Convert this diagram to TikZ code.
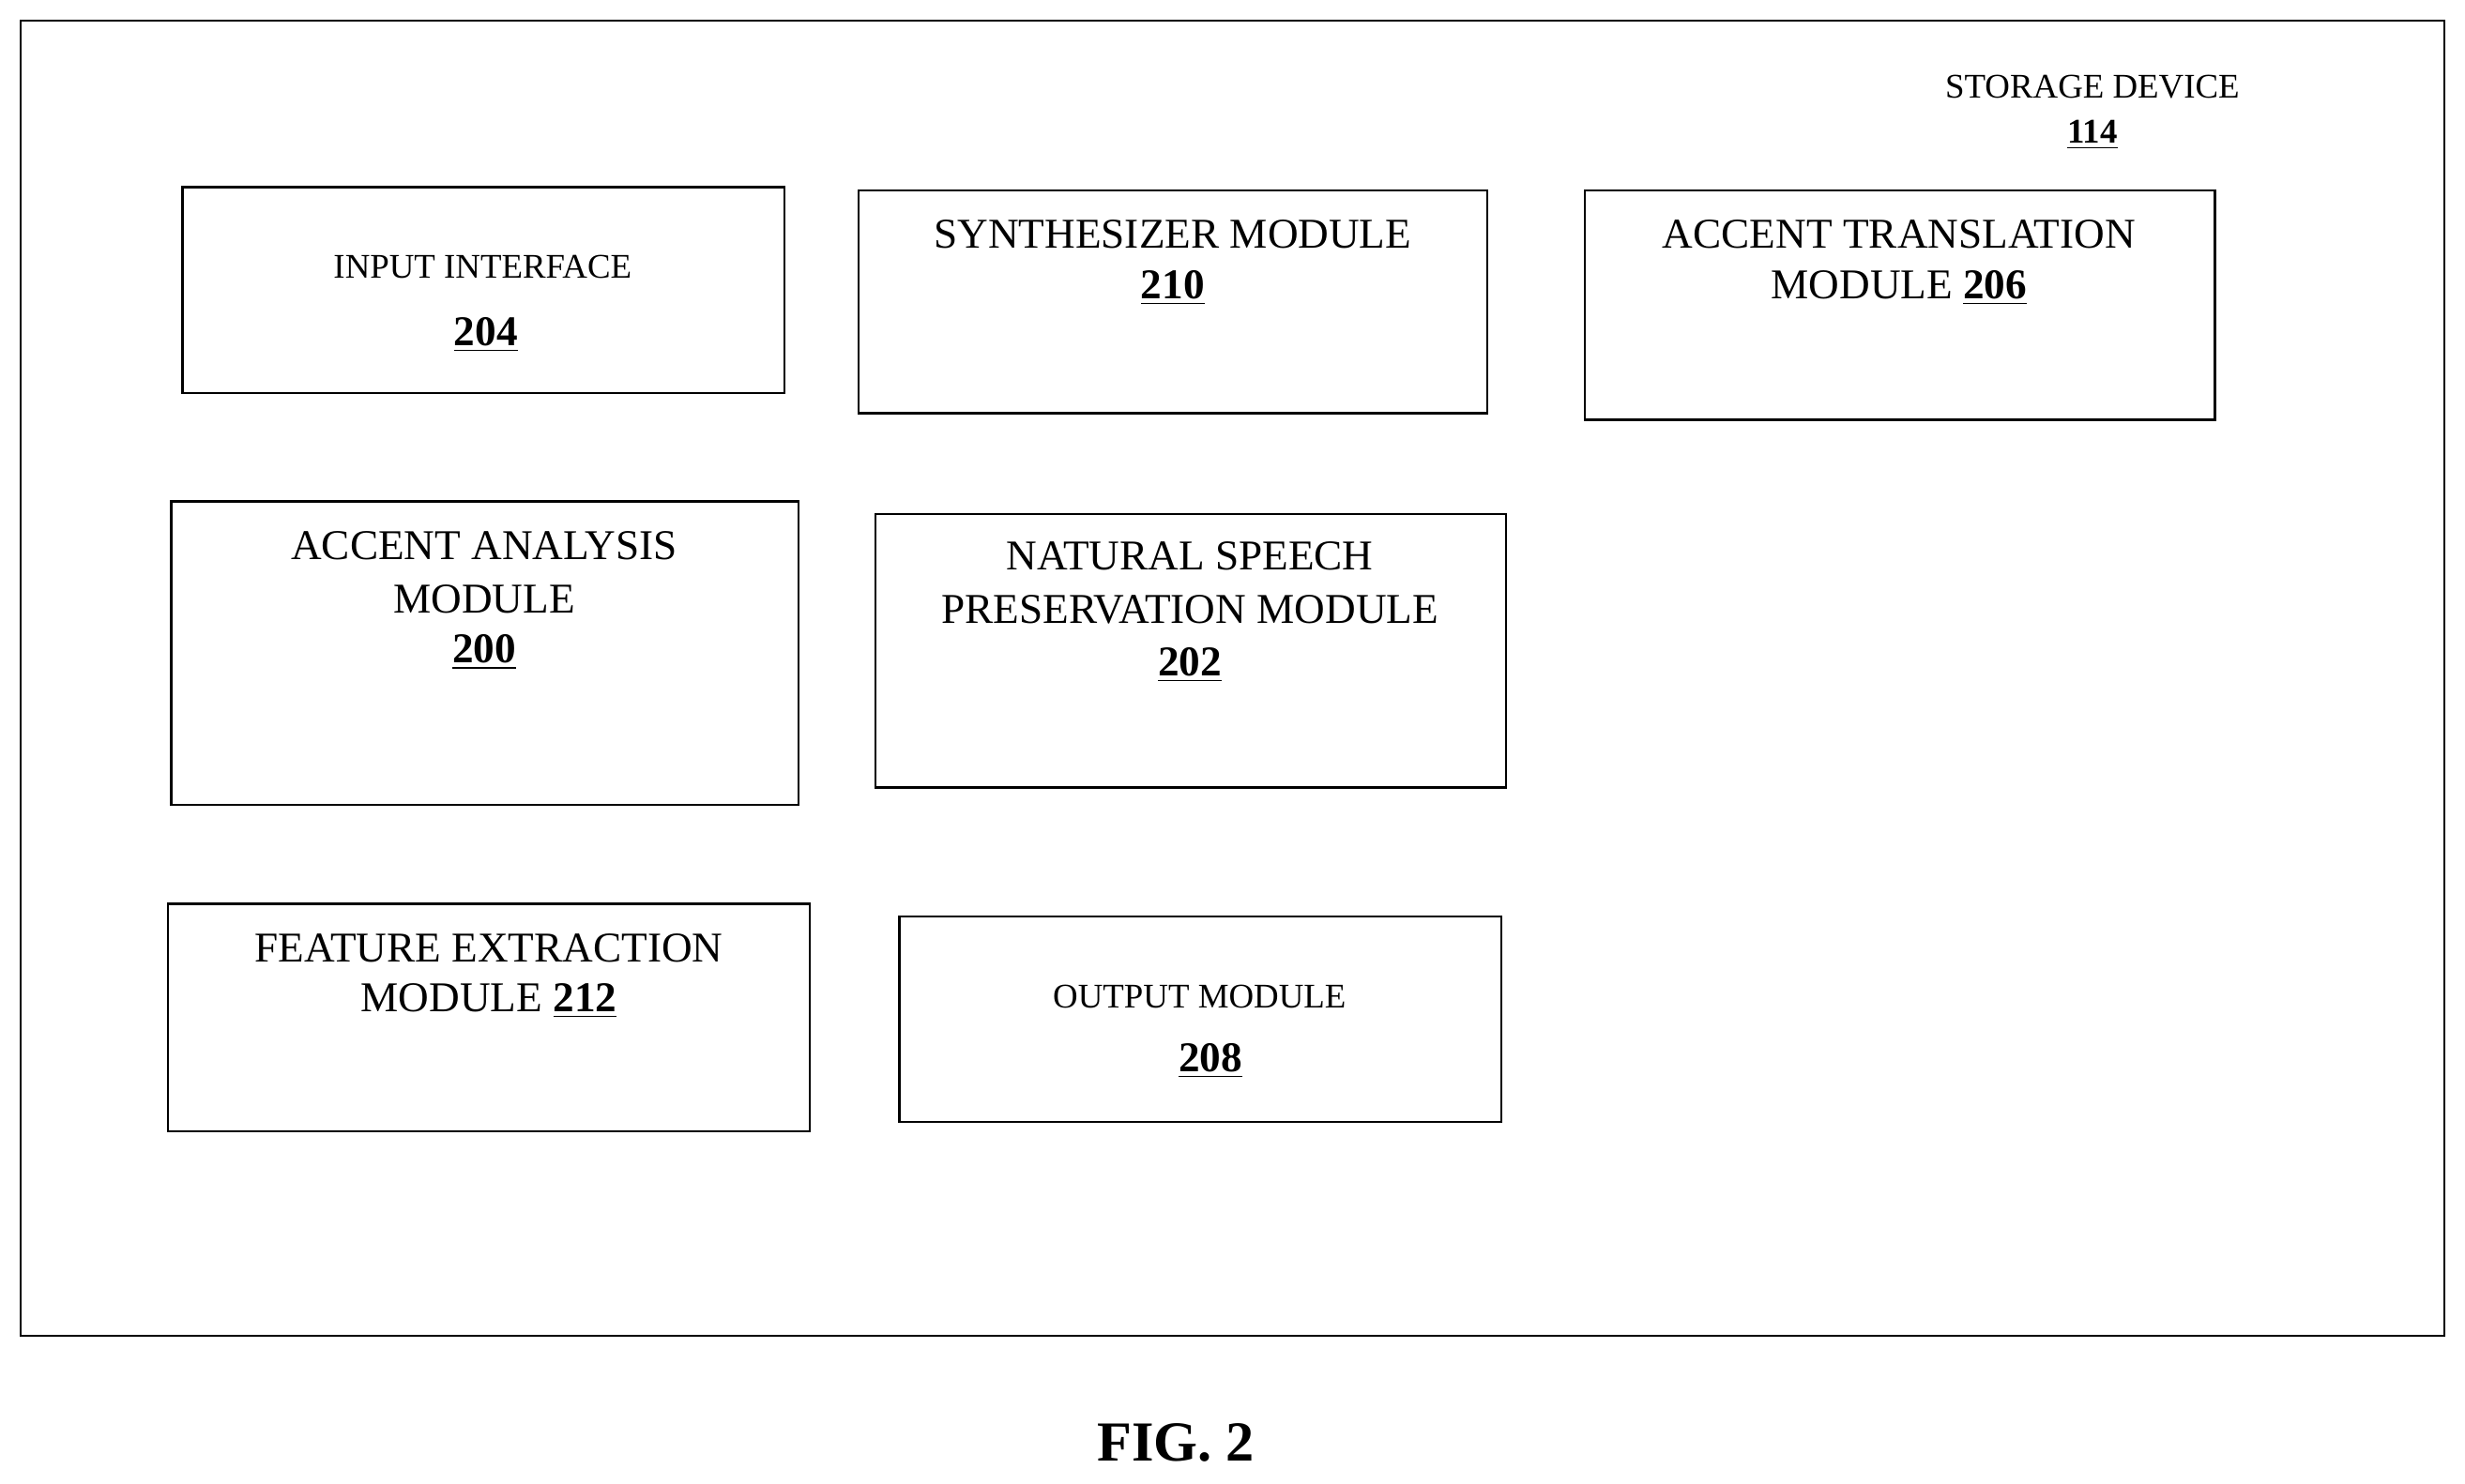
\documentclass[tikz,border=0pt]{standalone}
\usepackage{fontspec}
\setmainfont{Liberation Serif}
\begin{document}
\begin{tikzpicture}[x=0.5pt,y=-0.5pt,
  box/.style={draw,line width=0.7pt,inner sep=0pt},
  t/.style={font=\fontsize{13.5}{15}\selectfont,inner sep=0pt,anchor=center},
  s/.style={font=\fontsize{11}{13}\selectfont,inner sep=0pt,anchor=center},
  n/.style={font=\fontsize{13.5}{15}\selectfont\bfseries,inner sep=0pt,anchor=center}]
\useasboundingbox (0,0) rectangle (1568,944);
\draw[line width=0.7pt] (13,13) rectangle (1555,850);
\node[s] (sd) at (1331,55) {STORAGE DEVICE};
\node[s,font=\fontsize{11}{13}\selectfont\bfseries] (sdn) at (1331,86) {\underline{114}};
% boxes
\draw[box] (116,119) rectangle (499,250);
\node[s] (ii) at (307,170) {INPUT INTERFACE};
\node[n] (iin) at (309,213) {\underline{204}};
\draw[box] (546,121) rectangle (946,263);
\node[t] (sy) at (746,149) {SYNTHESIZER MODULE};
\node[n] (syn) at (746,183) {\underline{210}};
\draw[box] (1008,121) rectangle (1409,267);
\node[t] (at) at (1208,149) {ACCENT TRANSLATION};
\node[t] (at2) at (1208,183) {MODULE \textbf{\underline{206}}};
\draw[box] (109,319) rectangle (508,512);
\node[t] (aa) at (308,347) {ACCENT ANALYSIS};
\node[t] (aa2) at (308,381) {MODULE};
\node[n] (aan) at (308,415) {\underline{200}};
\draw[box] (557,327) rectangle (958,501);
\node[t] (ns) at (757,354) {NATURAL SPEECH};
\node[t] (ns2) at (757,388) {PRESERVATION MODULE};
\node[n] (nsn) at (757,423) {\underline{202}};
\draw[box] (107,575) rectangle (515,720);
\node[t] (fe) at (311,603) {FEATURE EXTRACTION};
\node[t] (fe2) at (311,637) {MODULE \textbf{\underline{212}}};
\draw[box] (572,583) rectangle (955,714);
\node[s] (om) at (763,634) {OUTPUT MODULE};
\node[n] (omn) at (770,675) {\underline{208}};
\node[font=\fontsize{18}{20}\selectfont\bfseries,inner sep=0pt] (fig) at (748,918) {FIG. 2};
\end{tikzpicture}
\end{document}
